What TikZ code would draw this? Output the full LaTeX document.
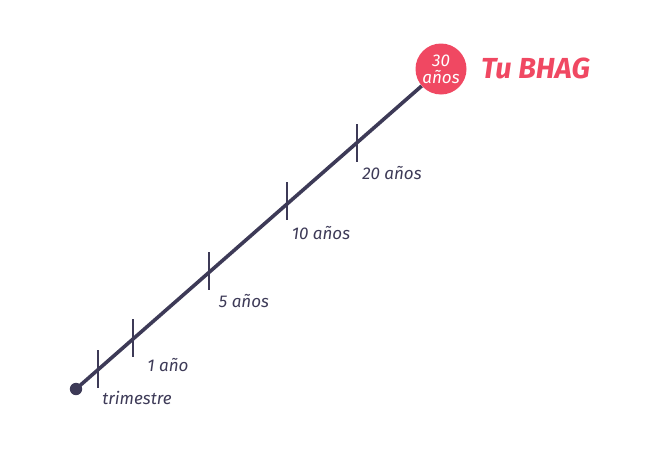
\documentclass[tikz,border=0pt]{standalone}
\usepackage{fontspec}
\setmainfont{Fira Sans}
\usetikzlibrary{backgrounds}
\definecolor{navy}{HTML}{3D3A57}
\definecolor{bhag}{HTML}{F04862}
\begin{document}
\begin{tikzpicture}[x=1pt,y=-1pt,
  lbl/.style={font=\fontsize{17}{17}\selectfont\itshape, text=navy, inner sep=0pt},
  tick/.style={draw=navy, line width=1.6pt},
  axis/.style={draw=navy, line width=3.6pt}]
\useasboundingbox (0,0) rectangle (650,450);
\coordinate (start) at (76,389);
\node[circle, fill=bhag, minimum size=51pt, inner sep=0pt, text=white,
  font=\fontsize{17}{17}\selectfont\itshape, align=center] (goal) at (441,69) {30\\años};
\begin{scope}[on background layer]
\draw[axis] (start) -- (goal);
\end{scope}
\fill[navy] (start) circle (6.2);
\foreach \n/\x/\y in {t0/98/369, t1/133/338, t2/209/271, t3/287/201, t4/357/143}{
  \coordinate (\n a) at (\x,\y-19);
  \coordinate (\n b) at (\x,\y+19);
  \draw[tick] (\n a) -- (\n b);
}
\node[lbl] (l0) at (137,398) {trimestre};
\node[lbl] (l1) at (168,365) {1 año};
\node[lbl] (l2) at (244,301) {5 años};
\node[lbl] (l3) at (321,233) {10 años};
\node[lbl] (l4) at (392,173) {20 años};
\node[font=\fontsize{29}{29}\selectfont\bfseries\itshape, text=bhag, inner sep=0pt, anchor=west] (title) at (481,68) {Tu BHAG};
\end{tikzpicture}
\end{document}
